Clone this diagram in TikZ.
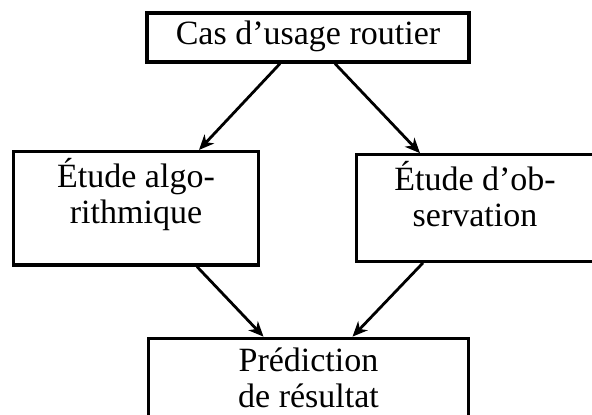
\documentclass[tikz,border=0pt]{standalone}
\usepackage{fontspec}
\setmainfont{Liberation Serif}
\usetikzlibrary{arrows.meta,calc}
\begin{document}
\begin{tikzpicture}[x=1pt,y=-1pt,
  box/.style={draw, line width=3.2pt, inner sep=0pt, anchor=center},
  lbl/.style={font=\fontsize{34}{36}\selectfont, align=center, inner sep=0pt, anchor=base},
  arr/.style={line width=2.8pt, -{Stealth[length=15pt,width=13pt,inset=4.5pt]}}]
\useasboundingbox (0,0) rectangle (592,415);
\node[box, minimum width=322pt, minimum height=49pt] (top) at (308,37.5) {};
\node[lbl] (toptxt) at (308,45) {Cas d’usage routier};
\node[box, minimum width=245pt, minimum height=113.5pt] (left) at (136,208.3) {};
\node[lbl] (lefttxt) at (136,223) {Étude algo-\\rithmique};
\node[box, minimum width=237.5pt, minimum height=106.5pt] (right) at (475,208) {};
\node[lbl] (righttxt) at (475,226) {Étude d’ob-\\servation};
\node[box, minimum width=320pt, minimum height=91.5pt] (bottom) at (308.5,384) {};
\node[lbl] (bottomtxt) at (308.5,407) {Prédiction\\de résultat};
\draw[arr] ([xshift=-28pt]top.south) -- ([xshift=63pt]left.north);
\draw[arr] ([xshift=27pt]top.south) -- ([xshift=-55pt]right.north);
\draw[arr] ([xshift=61pt]left.south) -- ([xshift=-45pt]bottom.north);
\draw[arr] ([xshift=-52pt]right.south) -- ([xshift=44pt]bottom.north);
\end{tikzpicture}
\end{document}
